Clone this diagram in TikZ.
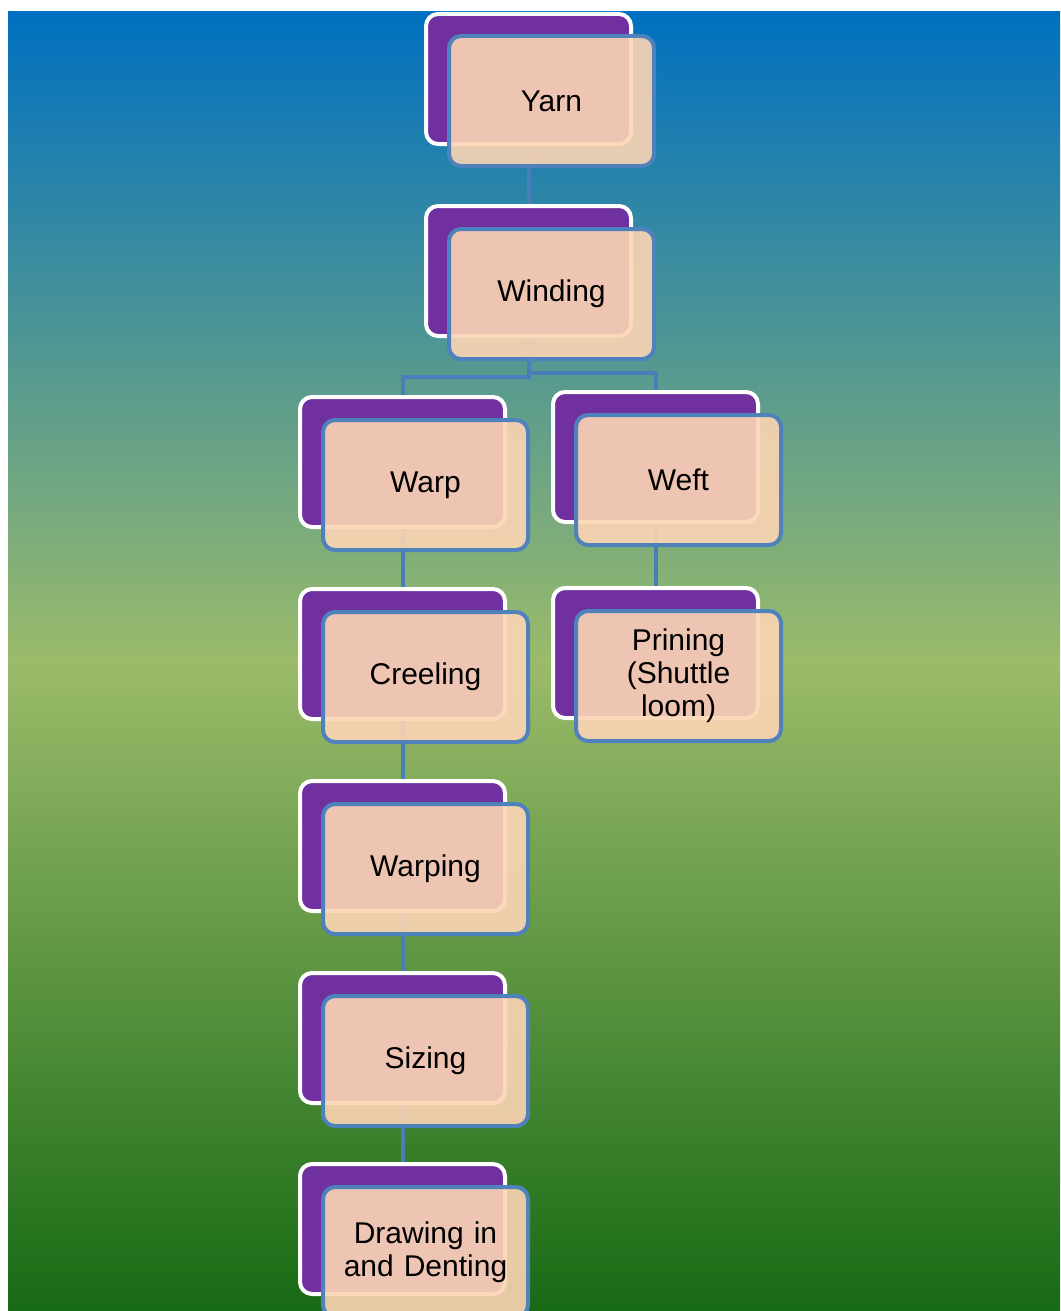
\documentclass[tikz,border=0pt]{standalone}
\usepackage{fontspec}
\setmainfont{Liberation Sans}
\usetikzlibrary{positioning, calc, backgrounds}

\definecolor{cardpurple}{HTML}{7030A0}
\definecolor{cardpeach}{HTML}{FCD5B4}
\definecolor{cardblue}{HTML}{4F81BD}
\definecolor{linkblue}{HTML}{4A7EBB}
\definecolor{skyblue}{HTML}{0070C0}
\definecolor{meadow}{HTML}{9BBB6A}
\definecolor{forest}{HTML}{176A14}

\begin{document}
\begin{tikzpicture}[
    x=1pt, y=-1pt,
    backcard/.style={rectangle, draw=white, line width=4pt, fill=cardpurple, rounded corners=12pt, minimum width=205pt, minimum height=130pt},
    frontcard/.style={rectangle, draw=cardblue, line width=4pt, fill=cardpeach, fill opacity=0.9, text opacity=1, rounded corners=12pt, minimum width=205pt, minimum height=130pt, align=center, text width=180pt, font=\fontsize{30}{33}\selectfont},
    link/.style={draw=linkblue, line width=4pt}
]

% page
\useasboundingbox (0,0) rectangle (1060,1311);

% Column 1: Yarn and Winding
\node[backcard] (yarn-back) at (528.5,79) {};
\node[frontcard] (yarn) at ($(yarn-back)+(23,22)$) {Yarn};
\node[backcard] (winding-back) at (528.5,271) {};
\node[frontcard] (winding) at ($(winding-back)+(23,23)$) {Winding};

% Warp branch
\node[backcard] (warp-back) at (402.5,462) {};
\node[frontcard] (warp) at ($(warp-back)+(23,23)$) {Warp};
\node[backcard] (creeling-back) at (402.5,654) {};
\node[frontcard] (creeling) at ($(creeling-back)+(23,23)$) {Creeling};
\node[backcard] (warping-back) at (402.5,846) {};
\node[frontcard] (warping) at ($(warping-back)+(23,23)$) {Warping};
\node[backcard] (sizing-back) at (402.5,1038) {};
\node[frontcard] (sizing) at ($(sizing-back)+(23,23)$) {Sizing};
\node[backcard] (drawing-back) at (402.5,1229) {};
\node[frontcard] (drawing) at ($(drawing-back)+(23,23)$) {Drawing in\\and Denting};

% Weft branch
\node[backcard] (weft-back) at (655.5,457) {};
\node[frontcard] (weft) at ($(weft-back)+(23,23)$) {Weft};
\node[backcard] (prining-back) at (655.5,653) {};
\node[frontcard] (prining) at ($(prining-back)+(23,23)$) {Prining\\(Shuttle\\loom)};

% Background and connectors
\begin{scope}[on background layer]
\shade[shading=axis, top color=skyblue, bottom color=forest, middle color=meadow] (8,12) rectangle (1060,1311);
\draw[link] (yarn-back) -- (winding-back);
\draw[link] (winding-back.south) -- ++(0,39) -| (warp-back.north);
\draw[link] (winding-back.south) -- ++(0,35) -| (weft-back.north);
\draw[link] (warp-back) -- (creeling-back);
\draw[link] (creeling-back) -- (warping-back);
\draw[link] (warping-back) -- (sizing-back);
\draw[link] (sizing-back) -- (drawing-back);
\draw[link] (weft-back) -- (prining-back);
\end{scope}

\end{tikzpicture}
\end{document}
